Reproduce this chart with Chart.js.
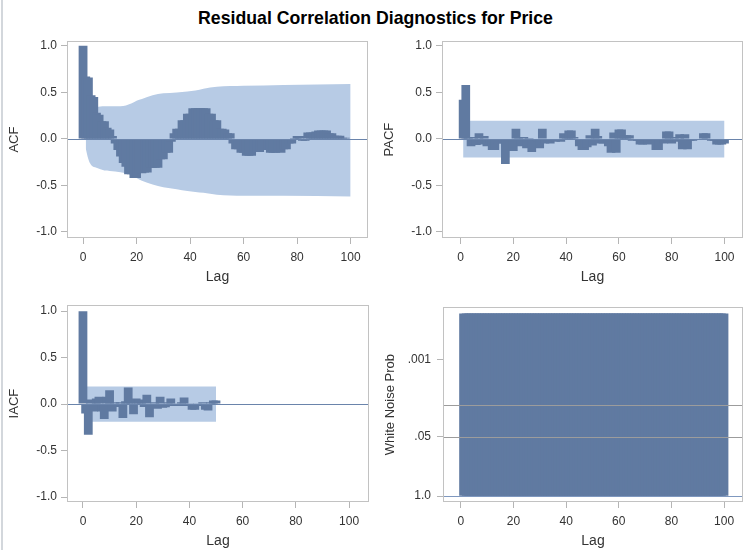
<!DOCTYPE html>
<html><head><meta charset="utf-8">
<script src="https://cdn.jsdelivr.net/npm/chart.js@4.4.1/dist/chart.umd.min.js"></script>
<style>
html,body{margin:0;padding:0;background:#fff;overflow:hidden;}
#wrap{position:relative;width:751px;height:550px;overflow:hidden;font-family:"Liberation Sans",Arial,sans-serif;}
#title{position:absolute;left:0;top:8px;width:751px;text-align:center;font-weight:bold;font-size:17.7px;color:#000;}
#edge{position:absolute;left:1px;top:0;width:2px;height:550px;background:#d3d7dc;}
canvas{position:absolute;}
</style></head><body>
<div id="wrap">
<div id="edge"></div>
<div id="title">Residual Correlation Diagnostics for Price</div>
<canvas id="c1" width="375" height="260" style="left:0;top:30px"></canvas>
<canvas id="c2" width="376" height="260" style="left:375px;top:30px"></canvas>
<canvas id="c3" width="375" height="260" style="left:0;top:294px"></canvas>
<canvas id="c4" width="376" height="260" style="left:375px;top:294px"></canvas>
</div>
<script>
// ---------- data ----------
const lagTicks = [0,20,40,60,80,100];
const corrTicks = [-1,-0.5,0,0.5,1];
const corrTickLabels = ['-1.0','-0.5','0.0','0.5','1.0'];

const acfLags = [0,1,2,3,4,5,6,7,8,9,10,11,12,13,14,15,16,17,18,19,20,21,22,23,24,25,26,27,28,29,30,31,32,33,34,35,36,37,38,39,40,41,42,43,44,45,46,47,48,49,50,51,52,53,54,55,56,57,58,59,60,61,62,63,64,65,66,67,68,69,70,71,72,73,74,75,76,77,78,79,80,81,82,83,84,85,86,87,88,89,90,91,92,93,94,95,96,97,98,99,100];
const acfValues = [1.0,0.67,0.66,0.47,0.45,0.28,0.26,0.19,0.19,0.12,0.10,0.03,-0.05,-0.12,-0.19,-0.26,-0.30,-0.38,-0.38,-0.42,-0.42,-0.36,-0.37,-0.36,-0.36,-0.31,-0.31,-0.31,-0.31,-0.22,-0.22,-0.15,-0.15,-0.03,0.06,0.11,0.11,0.20,0.20,0.27,0.27,0.33,0.33,0.33,0.33,0.33,0.33,0.27,0.27,0.20,0.20,0.11,0.11,0.10,0.06,0.06,-0.05,-0.11,-0.11,-0.15,-0.15,-0.18,-0.18,-0.18,-0.14,-0.14,-0.14,-0.12,-0.12,-0.12,-0.15,-0.15,-0.15,-0.14,-0.15,-0.11,-0.11,-0.05,-0.05,0.01,0.03,0.03,-0.02,-0.02,0.07,0.07,0.07,0.08,0.09,0.09,0.09,0.09,0.06,0.06,0.035,0.035,0.035,0.012,0.012,0.005,0.0];
const acfBandLags  = [1,2,3,5,8,12,16,18,20,22,26,30,35,39,42,45,50,60,75,100];
const acfBandUpper = [0.20,0.27,0.31,0.34,0.35,0.35,0.36,0.38,0.41,0.43,0.47,0.49,0.50,0.51,0.52,0.54,0.56,0.57,0.58,0.59];
const acfBandLower = [-0.10,-0.22,-0.28,-0.31,-0.34,-0.35,-0.37,-0.39,-0.42,-0.45,-0.49,-0.52,-0.54,-0.56,-0.57,-0.58,-0.60,-0.61,-0.61,-0.62];

const pacfLags = [1,2,3,4,5,6,7,8,9,10,11,12,13,14,15,16,17,18,19,20,21,22,23,24,25,26,27,28,29,30,31,32,33,34,35,36,37,38,39,40,41,42,43,44,45,46,47,48,49,50,51,52,53,54,55,56,57,58,59,60,61,62,63,64,65,66,67,68,69,70,71,72,73,74,75,76,77,78,79,80,81,82,83,84,85,86,87,88,89,90,91,92,93,94,95,96,97,98,99,100];
const pacfValues = [0.42,0.58,0.02,-0.08,0.02,-0.065,0.06,-0.06,0.03,-0.08,-0.05,-0.12,-0.12,-0.05,0.0,-0.05,-0.27,-0.13,0.0,-0.13,0.11,0.02,-0.08,0.02,-0.10,0.01,-0.14,0.0,-0.03,-0.10,0.11,-0.05,0.0,-0.05,-0.02,-0.03,0.0,-0.03,0.06,0.02,0.09,0.09,0.02,0.0,-0.08,-0.12,-0.12,-0.09,0.04,-0.07,0.11,0.03,-0.05,-0.05,0.0,-0.08,-0.15,0.07,-0.15,0.10,0.10,0.04,0.04,0.04,-0.02,0.0,-0.02,-0.06,-0.06,-0.02,-0.06,-0.02,0.0,-0.12,-0.12,0.0,-0.05,0.08,0.08,-0.05,0.02,-0.03,0.05,-0.11,0.05,-0.11,-0.02,-0.02,-0.01,0.0,-0.01,0.06,0.06,0.0,-0.02,-0.02,-0.06,-0.06,-0.06,-0.05];
const pacfBandLags  = [1,100];
const pacfBandUpper = [0.195,0.195];
const pacfBandLower = [-0.2,-0.2];

const iacfLags = [0,1,2,3,4,5,6,7,8,9,10,11,12,13,14,15,16,17,18,19,20,21,22,23,24,25,26,27,28,29,30,31,32,33,34,35,36,37,38,39,40,41,42,43,44,45,46,47,48,49,50];
const iacfValues = [1.0,-0.10,-0.33,0.05,-0.08,0.06,0.08,-0.08,-0.16,0.08,0.15,-0.08,0.02,-0.03,0.02,-0.15,0.03,0.18,0.05,-0.11,0.06,0.05,0.02,-0.03,0.10,-0.14,-0.02,0.02,-0.05,0.08,-0.04,-0.035,0.02,0.06,-0.02,0.01,-0.02,0.02,0.07,-0.02,0.01,-0.06,-0.06,0.01,-0.02,0.02,-0.06,-0.07,0.02,0.04,0.04];
const iacfBandLags  = [1,50];
const iacfBandUpper = [0.19,0.19];
const iacfBandLower = [-0.19,-0.19];

const wnLags = [1,2,3,4,5,6,7,8,9,10,11,12,13,14,15,16,17,18,19,20,21,22,23,24,25,26,27,28,29,30,31,32,33,34,35,36,37,38,39,40,41,42,43,44,45,46,47,48,49,50,51,52,53,54,55,56,57,58,59,60,61,62,63,64,65,66,67,68,69,70,71,72,73,74,75,76,77,78,79,80,81,82,83,84,85,86,87,88,89,90,91,92,93,94,95,96,97,98,99,100];
const wnProb = [0.0001,0.0001,0.0001,0.0001,0.0001,0.0001,0.0001,0.0001,0.0001,0.0001,0.0001,0.0001,0.0001,0.0001,0.0001,0.0001,0.0001,0.0001,0.0001,0.0001,0.0001,0.0001,0.0001,0.0001,0.0001,0.0001,0.0001,0.0001,0.0001,0.0001,0.0001,0.0001,0.0001,0.0001,0.0001,0.0001,0.0001,0.0001,0.0001,0.0001,0.0001,0.0001,0.0001,0.0001,0.0001,0.0001,0.0001,0.0001,0.0001,0.0001,0.0001,0.0001,0.0001,0.0001,0.0001,0.0001,0.0001,0.0001,0.0001,0.0001,0.0001,0.0001,0.0001,0.0001,0.0001,0.0001,0.0001,0.0001,0.0001,0.0001,0.0001,0.0001,0.0001,0.0001,0.0001,0.0001,0.0001,0.0001,0.0001,0.0001,0.0001,0.0001,0.0001,0.0001,0.0001,0.0001,0.0001,0.0001,0.0001,0.0001,0.0001,0.0001,0.0001,0.0001,0.0001,0.0001,0.0001,0.0001,0.0001,0.0001];
const wnTickProbs = [1.0,0.05,0.001];
const wnTickLabels = ['1.0','.05','.001'];
const wnRefProbs = [0.05,0.01];

// ---------- styling ----------
const BAR = '#607AA1';
const BAND = '#B7CBE5';
const ZERO = '#6A84AB';
const FONT = '"Liberation Sans", Arial, sans-serif';
Chart.defaults.font.family = FONT;
Chart.defaults.color = '#333';
Chart.defaults.animation = false;

function toXY(xs, ys){ return xs.map((x,i)=>({x:x, y:ys[i]})); }
const nlog = p => -Math.log10(p);

function panelPlugin(refs){
  return {id:'panelFrame', afterDatasetsDraw(chart){
    const {ctx, chartArea:a, scales:{y}} = chart;
    ctx.save();
    refs.forEach(r=>{
      const py = Math.round(y.getPixelForValue(r.v)) + 0.5;
      ctx.strokeStyle = r.c; ctx.lineWidth = 1;
      ctx.beginPath(); ctx.moveTo(a.left, py); ctx.lineTo(a.right, py); ctx.stroke();
    });
    ctx.strokeStyle = '#c2c2c2'; ctx.lineWidth = 1;
    ctx.strokeRect(Math.round(a.left)+0.5, Math.round(a.top)+0.5, Math.round(a.right-a.left)-1, Math.round(a.bottom-a.top)-1);
    ctx.restore();
  }};
}

function makeChart(id, o){
  const datasets = [];
  if (o.band){
    datasets.push({type:'line', data:toXY(o.band.lags, o.band.up), borderWidth:0, pointRadius:0, fill:false, cubicInterpolationMode:'monotone', order:2});
    datasets.push({type:'line', data:toXY(o.band.lags, o.band.lo), borderWidth:0, pointRadius:0, fill:'-1', backgroundColor:BAND, cubicInterpolationMode:'monotone', order:2});
  }
  datasets.push({type:'bar', data:toXY(o.lags, o.vals), backgroundColor:BAR, borderWidth:0, barPercentage:3.3, categoryPercentage:1, order:1});
  return new Chart(document.getElementById(id), {
    type:'bar',
    data:{datasets},
    options:{
      responsive:false, animation:false,
      layout:{padding:{top:9, right:o.padRight, left:0, bottom:0}},
      plugins:{legend:{display:false}, tooltip:{enabled:false}},
      scales:{
        x:{type:'linear', min:o.xmin, max:o.xmax, offset:false,
          afterBuildTicks(s){ s.ticks = lagTicks.map(v=>({value:v})); },
          afterFit(s){ s.height = 52; },
          grid:{offset:false, drawOnChartArea:false, drawTicks:true, tickLength:6, color:'#b5b5b5'},
          border:{display:false},
          ticks:{padding:6, color:'#333', font:{size:12}, maxRotation:0, autoSkip:false, callback:(v)=>String(v)},
          title:{display:true, text:'Lag', color:'#333', font:{size:14}, padding:{top:0, bottom:4}}
        },
        y:{type:'linear', min:o.ymin, max:o.ymax,
          afterBuildTicks(s){ s.ticks = o.yTicks.map(v=>({value:v})); },
          afterFit(s){ s.width = o.yWidth; },
          grid:{drawOnChartArea:false, drawTicks:true, tickLength:6, color:'#b5b5b5'},
          border:{display:false},
          ticks:{padding:o.yPad, color:'#333', font:{size:12}, autoSkip:false, callback:(v,i)=>o.yLabels[i]},
          title:{display:true, text:o.ytitle, color:'#333', font:{size:13}, padding:{top:o.titlePad, bottom:0}}
        }
      }
    },
    plugins:[panelPlugin(o.refs)]
  });
}

makeChart('c1', {lags:acfLags, vals:acfValues, band:{lags:acfBandLags, up:acfBandUpper, lo:acfBandLower},
  xmin:-6, xmax:106.5, ymin:-1.065, ymax:1.05, yTicks:corrTicks, yLabels:corrTickLabels, ytitle:'ACF',
  yWidth:67, yPad:4, titlePad:7, padRight:7, refs:[{v:0, c:ZERO}]});
makeChart('c2', {lags:pacfLags, vals:pacfValues, band:{lags:pacfBandLags, up:pacfBandUpper, lo:pacfBandLower},
  xmin:-7, xmax:107, ymin:-1.065, ymax:1.05, yTicks:corrTicks, yLabels:corrTickLabels, ytitle:'PACF',
  yWidth:67, yPad:4, titlePad:7, padRight:8, refs:[{v:0, c:ZERO}]});
makeChart('c3', {lags:iacfLags, vals:iacfValues, band:{lags:iacfBandLags, up:iacfBandUpper, lo:iacfBandLower},
  xmin:-6, xmax:107.5, ymin:-1.053, ymax:1.064, yTicks:corrTicks, yLabels:corrTickLabels, ytitle:'IACF',
  yWidth:67, yPad:4, titlePad:7, padRight:6, refs:[{v:0, c:ZERO}]});
makeChart('c4', {lags:wnLags, vals:wnProb.map(nlog), band:null,
  xmin:-6.8, xmax:107.2, ymin:-0.128, ymax:4.14, yTicks:wnTickProbs.map(nlog), yLabels:wnTickLabels, ytitle:'White Noise Prob',
  yWidth:68, yPad:6, titlePad:8, padRight:8,
  refs:[{v:0, c:'#7F98BF'}].concat(wnRefProbs.map(p=>({v:nlog(p), c:'#9c9c9c'})))});
</script>
</body></html>
